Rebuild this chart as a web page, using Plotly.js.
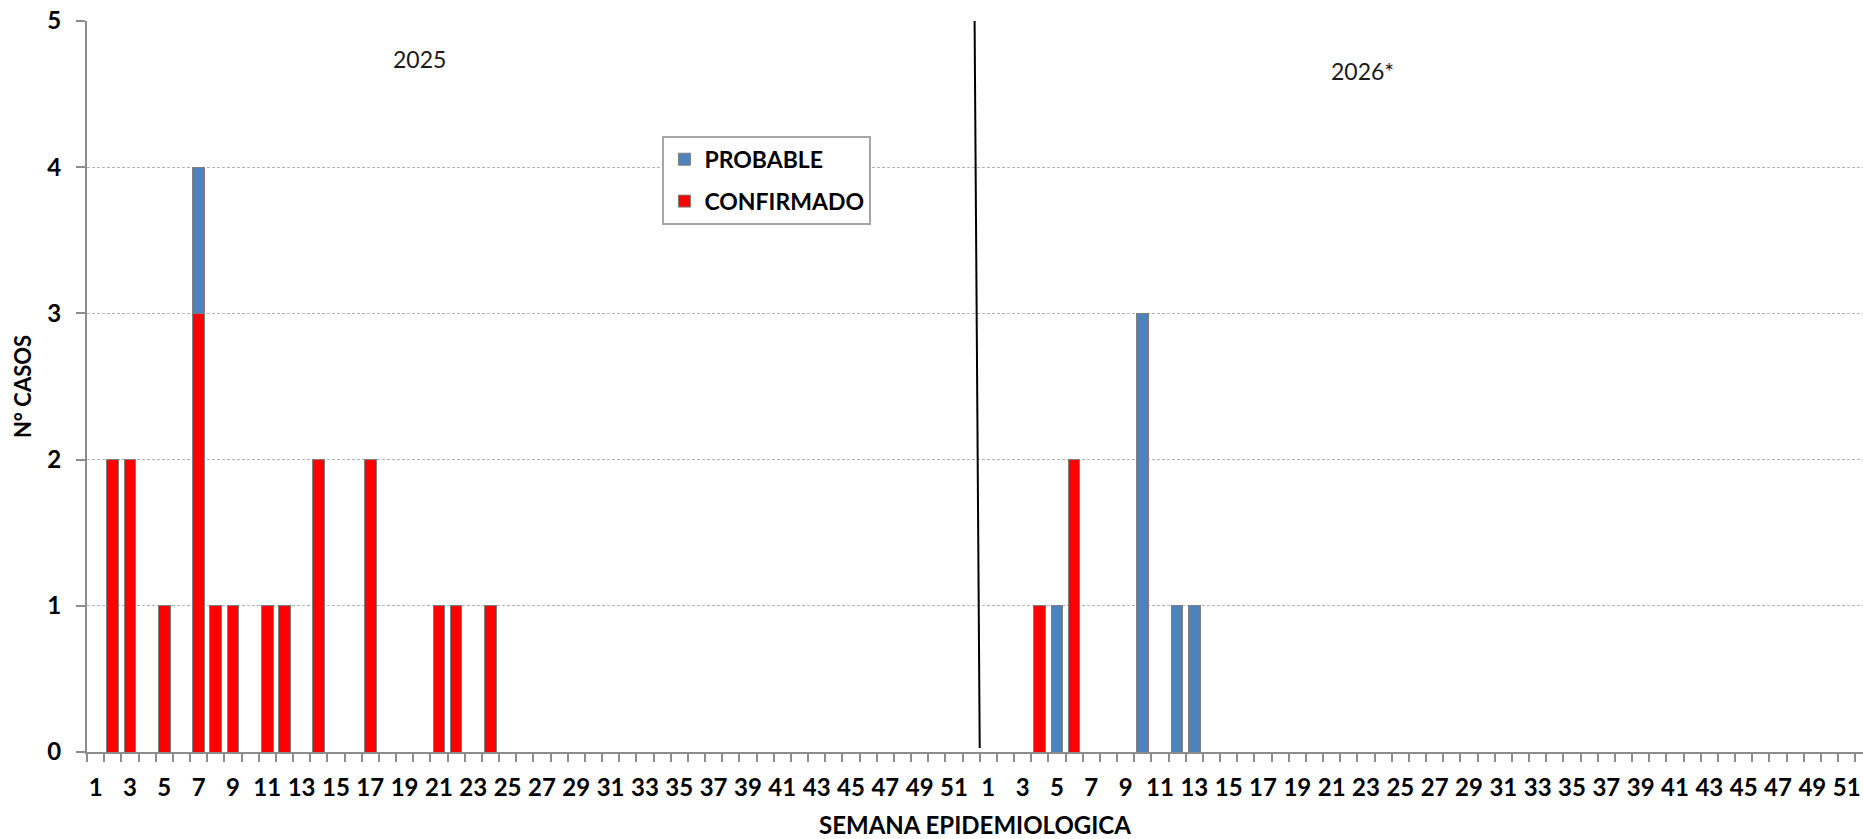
<!DOCTYPE html>
<html>
<head>
<meta charset="utf-8">
<script src="https://cdn.plot.ly/plotly-3.0.1.min.js"></script>
<style>
  html, body { margin: 0; padding: 0; background: #ffffff; overflow: hidden; }
  #chart { width: 1863px; height: 839px; }
</style>
</head>
<body>
<div id="chart"></div>
<script>
// ---- Data ----
var years = ["2025", "2026*"];
var weeks = [1,2,3,4,5,6,7,8,9,10,11,12,13,14,15,16,17,18,19,20,21,22,23,24,25,26,
             27,28,29,30,31,32,33,34,35,36,37,38,39,40,41,42,43,44,45,46,47,48,49,50,51,52];

var confirmado2025 = [0,2,2,0,1,0,3,1,1,0,1,1,0,2,0,0,2,0,0,0,1,1,0,1,0,0,
                      0,0,0,0,0,0,0,0,0,0,0,0,0,0,0,0,0,0,0,0,0,0,0,0,0,0];
var probable2025   = [0,0,0,0,0,0,1,0,0,0,0,0,0,0,0,0,0,0,0,0,0,0,0,0,0,0,
                      0,0,0,0,0,0,0,0,0,0,0,0,0,0,0,0,0,0,0,0,0,0,0,0,0,0];
var confirmado2026 = [0,0,0,1,0,2,0,0,0,0,0,0,0,0,0,0,0,0,0,0,0,0,0,0,0,0,
                      0,0,0,0,0,0,0,0,0,0,0,0,0,0,0,0,0,0,0,0,0,0,0,0,0,0];
var probable2026   = [0,0,0,0,1,0,0,0,0,3,0,1,1,0,0,0,0,0,0,0,0,0,0,0,0,0,
                      0,0,0,0,0,0,0,0,0,0,0,0,0,0,0,0,0,0,0,0,0,0,0,0,0,0];

var seriesNames = ["CONFIRMADO", "PROBABLE"];
var axisTitleX = "SEMANA EPIDEMIOLOGICA";
var axisTitleY = "N° CASOS";

// ---- Build the combined week sequence (2025 then 2026) ----
var xIdx = [], weekLabel = [];
for (var yi = 0; yi < years.length; yi++) {
  for (var w = 0; w < weeks.length; w++) {
    xIdx.push(yi * weeks.length + w);
    weekLabel.push(weeks[w]);
  }
}
function nz(a) { return a.map(function (v) { return v === 0 ? null : v; }); }
var confAll = nz(confirmado2025.concat(confirmado2026));
var probAll = nz(probable2025.concat(probable2026));

// labelled ticks: odd weeks, at category centres
var tickVals = [], tickText = [];
for (var i = 0; i < xIdx.length; i++) {
  if (weekLabel[i] % 2 === 1) { tickVals.push(xIdx[i]); tickText.push(String(weekLabel[i])); }
}
// tick marks: category boundaries
var boundaryVals = [];
for (var j = 0; j <= xIdx.length; j++) boundaryVals.push(j - 0.5);

var FONT = "Lato, 'Open Sans', sans-serif";
var GRAY = "#8c8c8c";

var traces = [
  {
    type: "bar", name: seriesNames[0], x: xIdx, y: confAll,
    width: 0.68, legendgroup: "c", legendrank: 2,
    marker: { color: "#ff0000", line: { color: "#7f7f7f", width: 1 } },
    hoverinfo: "y"
  },
  {
    type: "bar", name: seriesNames[1], x: xIdx, y: probAll,
    width: 0.68, legendgroup: "p", legendrank: 1,
    marker: { color: "#4f81bd", line: { color: "#7f7f7f", width: 1 } },
    hoverinfo: "y"
  }
];

var layout = {
  width: 1863, height: 839,
  margin: { l: 87, r: 0, t: 21, b: 87, pad: 0 },
  paper_bgcolor: "#ffffff", plot_bgcolor: "#ffffff",
  barmode: "stack",
  showlegend: true,
  font: { family: FONT, color: "#000000" },
  xaxis: {
    type: "linear",
    range: [-0.5, 102.95],
    tickmode: "array", tickvals: tickVals, ticktext: tickText,
    ticks: "", ticklabelstandoff: 13,
    tickfont: { family: FONT, size: 24, weight: 700, color: "#000000" },
    minor: { tickmode: "array", tickvals: boundaryVals, ticks: "outside", ticklen: 8, tickwidth: 2, tickcolor: GRAY, showgrid: false },
    showline: true, linecolor: GRAY, linewidth: 2,
    showgrid: false, zeroline: false,
    title: { text: axisTitleX, standoff: 20, font: { family: FONT, size: 24, weight: 700, color: "#000000" } },
    automargin: false, fixedrange: true
  },
  yaxis: {
    range: [0, 5],
    tickmode: "array", tickvals: [0, 1, 2, 3, 4, 5],
    ticks: "outside", ticklen: 9, tickwidth: 2, tickcolor: GRAY,
    ticklabelstandoff: 10,
    tickfont: { family: FONT, size: 24, weight: 700, color: "#000000" },
    showline: true, linecolor: GRAY, linewidth: 2,
    showgrid: true, gridcolor: "#b5b5b5", gridwidth: 1, griddash: "3px,2px",
    zeroline: false,
    title: { text: axisTitleY, standoff: 10, font: { family: FONT, size: 22, weight: 700, color: "#000000" } },
    automargin: false, fixedrange: true
  },
  legend: {
    x: 0.324, y: 0.843, xanchor: "left", yanchor: "top",
    traceorder: "grouped", tracegroupgap: 9,
    bgcolor: "#ffffff", bordercolor: "#a6a6a6", borderwidth: 2,
    font: { family: FONT, size: 23, weight: 700, color: "#000000" }
  },
  annotations: [
    { text: years[0], xref: "paper", yref: "paper", x: 0.187, y: 0.948,
      xanchor: "center", yanchor: "middle", showarrow: false,
      font: { family: FONT, size: 23, color: "#1a1a1a" } },
    { text: years[1], xref: "paper", yref: "paper", x: 0.718, y: 0.932,
      xanchor: "center", yanchor: "middle", showarrow: false,
      font: { family: FONT, size: 23, color: "#1a1a1a" } }
  ],
  shapes: [
    { type: "line", xref: "x", yref: "y", x0: 51.2, y0: 5.02, x1: 51.5, y1: 0.027,
      line: { color: "#000000", width: 2 } }
  ]
};

Plotly.newPlot("chart", traces, layout, { displayModeBar: false, staticPlot: true });
</script>
</body>
</html>
